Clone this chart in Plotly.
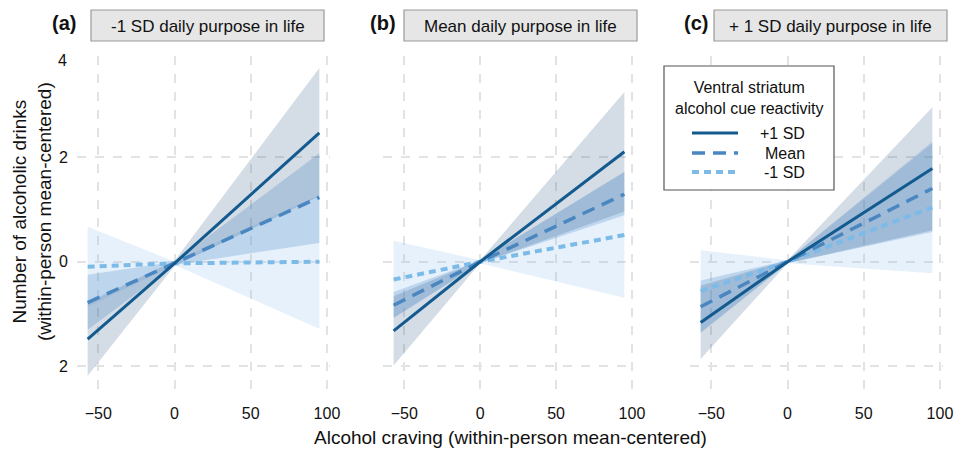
import plotly.graph_objects as go

# ---------------- data ----------------
craving = [-57, 0, 95]  # x positions: start, centre, end of each fitted line

panel_titles = ["-1 SD daily purpose in life", "Mean daily purpose in life", "+ 1 SD daily purpose in life"]
panel_tags = ["(a)", "(b)", "(c)"]
groups = ["+1 SD", "Mean", "-1 SD"]
legend_title = ["Ventral striatum", "alcohol cue reactivity"]

# panel (a)
a_hi_fit = [-1.48, -0.03, 2.46]
a_hi_lo = [-2.18, -0.08, 1.25]
a_hi_up = [-0.78, 0.02, 3.70]
a_mean_fit = [-0.78, -0.03, 1.23]
a_mean_lo = [-1.30, -0.06, 0.36]
a_mean_up = [-0.25, 0.00, 2.07]
a_low_fit = [-0.095, -0.03, 0.00]
a_low_lo = [-0.86, -0.06, -1.28]
a_low_up = [0.67, 0.00, 1.28]

# panel (b)
b_hi_fit = [-1.32, 0.00, 2.10]
b_hi_lo = [-1.98, -0.03, 0.96]
b_hi_up = [-0.66, 0.03, 3.24]
b_mean_fit = [-0.83, 0.00, 1.29]
b_mean_lo = [-1.07, -0.03, 0.89]
b_mean_up = [-0.58, 0.03, 1.72]
b_low_fit = [-0.34, 0.00, 0.51]
b_low_lo = [-1.08, -0.03, -0.69]
b_low_up = [0.40, 0.03, 1.71]

# panel (c)
c_hi_fit = [-1.16, 0.00, 1.78]
c_hi_lo = [-1.86, -0.03, 0.60]
c_hi_up = [-0.46, 0.03, 2.95]
c_mean_fit = [-0.86, 0.00, 1.40]
c_mean_lo = [-1.36, -0.03, 0.57]
c_mean_up = [-0.36, 0.03, 2.27]
c_low_fit = [-0.56, 0.00, 1.04]
c_low_lo = [-1.34, -0.03, -0.22]
c_low_up = [0.22, 0.03, 2.30]

x_ticks = [-50, 0, 50, 100]
y_ticks = [-2, 0, 2]
y_ticktext = ["2", "0", "2"]

# ---------------- styles ----------------
W, H = 956, 450
WX = 946  # effective horizontal scale used for placing layout elements
FONT = "Liberation Sans, Arial, Helvetica, sans-serif"
TXT = "#111111"
line_colors = {"+1 SD": "#135a8e", "Mean": "#4a87c1", "-1 SD": "#7cbbe8"}
band_colors = {"+1 SD": "rgba(40,80,130,0.20)", "Mean": "rgba(60,130,195,0.24)", "-1 SD": "rgba(130,185,235,0.20)"}
dashes = {"+1 SD": "solid", "Mean": "13px,8px", "-1 SD": "7px,5px"}
widths = {"+1 SD": 3, "Mean": 3.5, "-1 SD": 4}

panels = [
    {"+1 SD": (a_hi_fit, a_hi_lo, a_hi_up), "Mean": (a_mean_fit, a_mean_lo, a_mean_up), "-1 SD": (a_low_fit, a_low_lo, a_low_up)},
    {"+1 SD": (b_hi_fit, b_hi_lo, b_hi_up), "Mean": (b_mean_fit, b_mean_lo, b_mean_up), "-1 SD": (b_low_fit, b_low_lo, b_low_up)},
    {"+1 SD": (c_hi_fit, c_hi_lo, c_hi_up), "Mean": (c_mean_fit, c_mean_lo, c_mean_up), "-1 SD": (c_low_fit, c_low_lo, c_low_up)},
]


def px(x):
    return x / WX


def py(y):
    return 1 - y / H


x_domains = [(77, 330), (383, 635), (690, 943)]
y_domain = [py(390), py(56)]

fig = go.Figure()

for i, pdata in enumerate(panels):
    xa = "x" if i == 0 else f"x{i+1}"
    ya = "y" if i == 0 else f"y{i+1}"
    for g in ["-1 SD", "Mean", "+1 SD"]:
        fit, lo, up = pdata[g]
        fig.add_trace(go.Scatter(
            x=craving + craving[::-1], y=up + lo[::-1],
            fill="toself", fillcolor=band_colors[g], line=dict(width=0),
            mode="lines", hoverinfo="skip", showlegend=False, xaxis=xa, yaxis=ya))
    for g in ["-1 SD", "Mean", "+1 SD"]:
        fit, lo, up = pdata[g]
        fig.add_trace(go.Scatter(
            x=craving, y=fit, mode="lines", name=g,
            line=dict(color=line_colors[g], width=widths[g], dash=dashes[g]),
            showlegend=False, xaxis=xa, yaxis=ya))

axis_common = dict(showline=False, zeroline=False, showgrid=True, gridcolor="#e3e3e3",
                   griddash="dash", gridwidth=1.6, ticks="",
                   tickfont=dict(family=FONT, size=16, color=TXT))

layout = dict(
    width=W, height=H, margin=dict(l=0, r=0, t=0, b=0),
    paper_bgcolor="white", plot_bgcolor="white",
    font=dict(family=FONT, size=16, color=TXT),
    showlegend=False,
)

for i in range(3):
    xs = "xaxis" if i == 0 else f"xaxis{i+1}"
    ys = "yaxis" if i == 0 else f"yaxis{i+1}"
    d0, d1 = x_domains[i]
    layout[xs] = dict(axis_common, domain=[px(d0), min(px(d1), 1.0)], range=[-64, 102],
                      tickvals=x_ticks, ticklabelstandoff=12,
                      anchor="y" if i == 0 else f"y{i+1}")
    layout[ys] = dict(axis_common, domain=y_domain, range=[-2.45, 3.93],
                      tickvals=y_ticks, ticktext=y_ticktext,
                      showticklabels=(i == 0), ticklabelstandoff=8,
                      anchor="x" if i == 0 else f"x{i+1}")

fig.update_layout(**layout)

# strip boxes and titles
strip_x = [(91, 324), (404, 637), (714, 947)]
tag_x = [64, 383, 696]
for i in range(3):
    s0, s1 = strip_x[i]
    fig.add_shape(type="rect", xref="paper", yref="paper",
                  x0=px(s0), x1=px(s1), y0=py(41), y1=py(10),
                  fillcolor="#e6e6e6", line=dict(color="#9a9a9a", width=1.2), layer="below")
    fig.add_annotation(xref="paper", yref="paper", x=px((s0 + s1) / 2), y=py(26),
                       text=panel_titles[i], showarrow=False,
                       font=dict(family=FONT, size=17, color=TXT),
                       xanchor="center", yanchor="middle")
    fig.add_annotation(xref="paper", yref="paper", x=px(tag_x[i]), y=py(23),
                       text=f"<b>{panel_tags[i]}</b>", showarrow=False,
                       font=dict(family=FONT, size=20, color=TXT),
                       xanchor="center", yanchor="middle")

# top "4" tick label as shown in the reference
fig.add_annotation(xref="paper", yref="paper", x=px(69), y=py(61), text="4", showarrow=False,
                   font=dict(family=FONT, size=16, color=TXT), xanchor="right", yanchor="middle")

# axis titles
fig.add_annotation(xref="paper", yref="paper", x=px(510), y=py(437),
                   text="Alcohol craving (within-person mean-centered)", showarrow=False,
                   font=dict(family=FONT, size=19, color=TXT), xanchor="center", yanchor="middle")
fig.add_annotation(xref="paper", yref="paper", x=px(32), y=py(212),
                   text="Number of alcoholic drinks<br>(within-person mean-centered)", showarrow=False,
                   textangle=-90, font=dict(family=FONT, size=19, color=TXT),
                   xanchor="center", yanchor="middle")

# legend (drawn as a boxed key inside panel c)
lx0, lx1, ly0, ly1 = 664, 834, 66, 190
fig.add_shape(type="rect", xref="paper", yref="paper", x0=px(lx0), x1=px(lx1), y0=py(ly1), y1=py(ly0),
              fillcolor="white", line=dict(color="#555555", width=1.2))
fig.add_annotation(xref="paper", yref="paper", x=px((lx0 + lx1) / 2), y=py(98),
                   text="<br>".join(legend_title), showarrow=False, align="center",
                   font=dict(family=FONT, size=16, color=TXT), xanchor="center", yanchor="middle")
for k, g in enumerate(groups):
    yy = [133, 153, 172][k]
    fig.add_shape(type="line", xref="paper", yref="paper", x0=px(692), x1=px(738), y0=py(yy), y1=py(yy),
                  line=dict(color=line_colors[g], width=widths[g], dash=dashes[g]))
    fig.add_annotation(xref="paper", yref="paper", x=px(807), y=py(yy), text=g, showarrow=False,
                       font=dict(family=FONT, size=16, color=TXT), xanchor="right", yanchor="middle")

fig.write_html("out.html", config={"displayModeBar": False},
               post_script="document.body.style.margin='0px';document.body.style.overflow='hidden';")
